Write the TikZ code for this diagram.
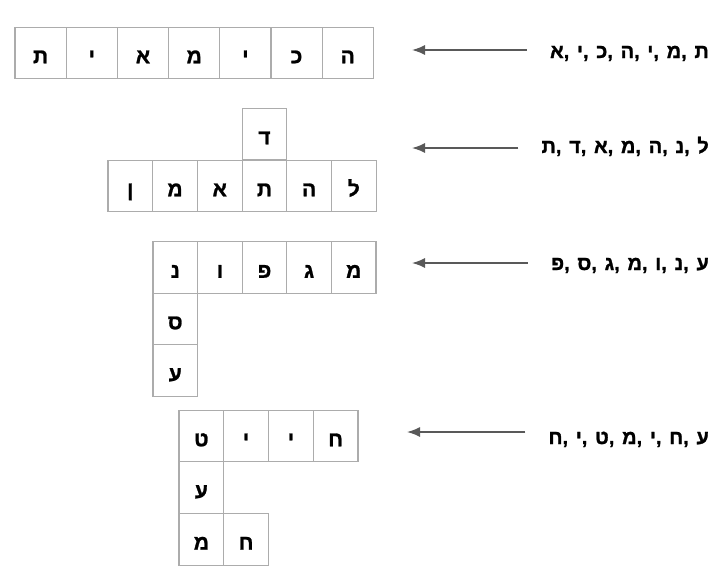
\documentclass[tikz,border=0pt]{standalone}
\usepackage{fontspec}
\usetikzlibrary{arrows.meta}
\newfontfamily\hebfont[Script=Hebrew,FakeBold=1.2]{Liberation Sans Bold}
\newcommand\cluespacing{\spaceskip 7.7pt\relax}
\TeXXeTstate=1
\begin{document}
\begin{tikzpicture}[x=1pt,y=-1pt]
      \tikzset{cell/.style={draw=gray!65, line width=1.2pt, minimum width=44.7pt, minimum height=51.7pt, inner sep=0pt,
                            text height=20.5pt, text depth=0pt, font=\hebfont\fontsize{21}{25}\selectfont},
               widecell/.style={cell, minimum width=51.2pt},
               clue/.style={anchor=base east, inner sep=0pt, font=\hebfont\fontsize{20}{24}\selectfont\cluespacing},
               pointer/.style={color=black!65, line width=1.5pt, -{Latex[length=13pt,width=10pt]}, shorten <=23pt}}
      \useasboundingbox (0,0) rectangle (722,570);
%% Cells
	%first word
		\node[widecell] (a1) at (40.6,53) {ת};
		\node[widecell] (a2) at (91.8,53) {י};
		\node[widecell] (a3) at (143,53) {א};
		\node[widecell] (a4) at (194.2,53) {מ};
		\node[widecell] (a5) at (245.4,53) {י};
		\node[widecell] (a6) at (296.6,53) {כ};
		\node[widecell] (a7) at (347.8,53) {ה};
	%second word
		\node[cell] (b0) at (264.45,134) {ד};
		\node[cell] (b1) at (130.35,186) {ן};
		\node[cell] (b2) at (175.05,186) {מ};
		\node[cell] (b3) at (219.75,186) {א};
		\node[cell] (b4) at (264.45,186) {ת};
		\node[cell] (b5) at (309.15,186) {ה};
		\node[cell] (b6) at (353.85,186) {ל};
	%third word
		\node[cell] (c1) at (175.3,267.5) {נ};
		\node[cell] (c2) at (219.9,267.5) {ו};
		\node[cell] (c3) at (264.5,267.5) {פ};
		\node[cell] (c4) at (309.1,267.5) {ג};
		\node[cell] (c5) at (353.7,267.5) {מ};
		\node[cell] (c6) at (175.3,319) {ס};
		\node[cell] (c7) at (175.3,370.7) {ע};
	%fourth word
		\node[cell] (d1) at (201.4,436) {ט};
		\node[cell] (d2) at (246.1,436) {י};
		\node[cell] (d3) at (290.9,436) {י};
		\node[cell] (d4) at (335.6,436) {ח};
		\node[cell] (d5) at (201.4,487.7) {ע};
		\node[cell] (d6) at (201.4,539.4) {מ};
		\node[cell] (d7) at (246.1,539.4) {ח};
%% Clues
		\node[clue] (k1) at (709,58) {\beginR ת ,מ ,י ,ה ,כ ,י ,א\endR};
		\node[clue] (k2) at (709,153) {\beginR ל ,נ ,ה ,מ ,א ,ד ,ת\endR};
		\node[clue] (k3) at (709,270) {\beginR ע ,נ ,ו ,מ ,ג ,ס ,פ\endR};
		\node[clue] (k4) at (709,444) {\beginR ע ,ח ,י ,מ ,ט ,י ,ח\endR};
		\coordinate (t1) at (412,50);
		\coordinate (t2) at (412,148);
		\coordinate (t3) at (412,263);
		\coordinate (t4) at (407,432);
%% Arrows
		\path [pointer] (k1.west |- t1) edge (t1);
		\path [pointer] (k2.west |- t2) edge (t2);
		\path [pointer] (k3.west |- t3) edge (t3);
		\path [pointer] (k4.west |- t4) edge (t4);
\end{tikzpicture}
\end{document}
